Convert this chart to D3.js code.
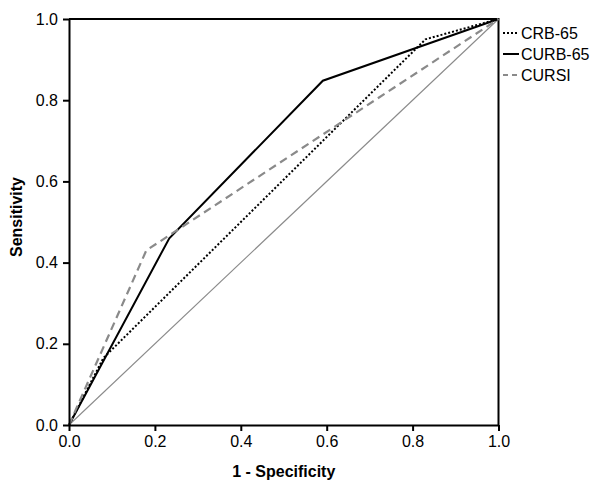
<!DOCTYPE html>
<html><head><meta charset="utf-8">
<script src="https://cdn.jsdelivr.net/npm/d3@7"></script>
<style>body{margin:0;background:#fff}svg{display:block}text{font-family:"Liberation Sans",Arial,sans-serif}</style>
</head><body><svg id="c" width="600" height="488"></svg>
<script>
const seriesNames = ["CRB-65", "CURB-65", "CURSI"];
const crb65X = [0, 0.08, 0.83, 1];
const crb65Y = [0, 0.165, 0.95, 1];
const curb65X = [0, 0.2335, 0.591, 1];
const curb65Y = [0, 0.46, 0.848, 1];
const cursiX = [0, 0.18, 1];
const cursiY = [0, 0.43, 1];
const refX = [0, 1];
const refY = [0, 1];
const tickValues = [0, 0.2, 0.4, 0.6, 0.8, 1.0];

const svg = d3.select("#c");
const L = 69, R = 498.5, T = 19, B = 425;
const x = d3.scaleLinear().domain([0, 1]).range([L, R]);
const y = d3.scaleLinear().domain([0, 1]).range([B, T]);
const line = d3.line().x(d => x(d[0])).y(d => y(d[1]));
const zip = (a, b) => a.map((v, i) => [v, b[i]]);

// frame top & right
svg.append("path").attr("d", `M${L},${T}H${R}V${B}`).attr("fill","none").attr("stroke","#000").attr("stroke-width",2);

// diagonal
svg.append("path").datum(zip(refX, refY)).attr("d", line).attr("fill","none").attr("stroke","#8a8a8a").attr("stroke-width",1.1);

const styles = [
  {stroke:"#000", dash:"2,2", w:2},
  {stroke:"#000", dash:null, w:2},
  {stroke:"#8a8a8a", dash:"8,5", w:2.2}
];
const data = [zip(crb65X, crb65Y), zip(curb65X, curb65Y), zip(cursiX, cursiY)];
data.forEach((d, i) => {
  svg.append("path").datum(d).attr("d", line).attr("fill","none")
    .attr("stroke", styles[i].stroke).attr("stroke-width", styles[i].w)
    .attr("stroke-dasharray", styles[i].dash).attr("stroke-linejoin","miter");
});

// axes
const xAxis = svg.append("g").attr("transform", `translate(0,${B})`)
  .call(d3.axisBottom(x).tickValues(tickValues).tickFormat(d3.format(".1f")).tickSize(6).tickSizeOuter(0).tickPadding(5));
const yAxis = svg.append("g").attr("transform", `translate(${L},0)`)
  .call(d3.axisLeft(y).tickValues(tickValues).tickFormat(d3.format(".1f")).tickSize(6).tickSizeOuter(0).tickPadding(5));
[xAxis, yAxis].forEach(g => {
  g.select(".domain").attr("stroke","#000").attr("stroke-width",2);
  g.selectAll(".tick line").attr("stroke","#000").attr("stroke-width",2);
  g.selectAll(".tick text").attr("font-size",16).attr("fill","#000").attr("font-family",'"Liberation Sans",Arial,sans-serif');
});

// titles
svg.append("text").attr("x", (L+R)/2).attr("y", 477).attr("text-anchor","middle")
  .attr("font-size",16).attr("font-weight","bold").text("1 - Specificity");
svg.append("text").attr("transform", "translate(22,217) rotate(-90)").attr("text-anchor","middle")
  .attr("font-size",16).attr("font-weight","bold").text("Sensitivity");

// legend
const legY = [33, 54, 75];
seriesNames.forEach((n, i) => {
  svg.append("line").attr("x1",503).attr("x2",519).attr("y1",legY[i]).attr("y2",legY[i])
    .attr("stroke", styles[i].stroke).attr("stroke-width",2).attr("stroke-dasharray", styles[i].dash ? (i===2?"5,4":"2,2") : null);
  svg.append("text").attr("x",521).attr("y",legY[i]+6).attr("font-size",16).text(n);
});
</script></body></html>
